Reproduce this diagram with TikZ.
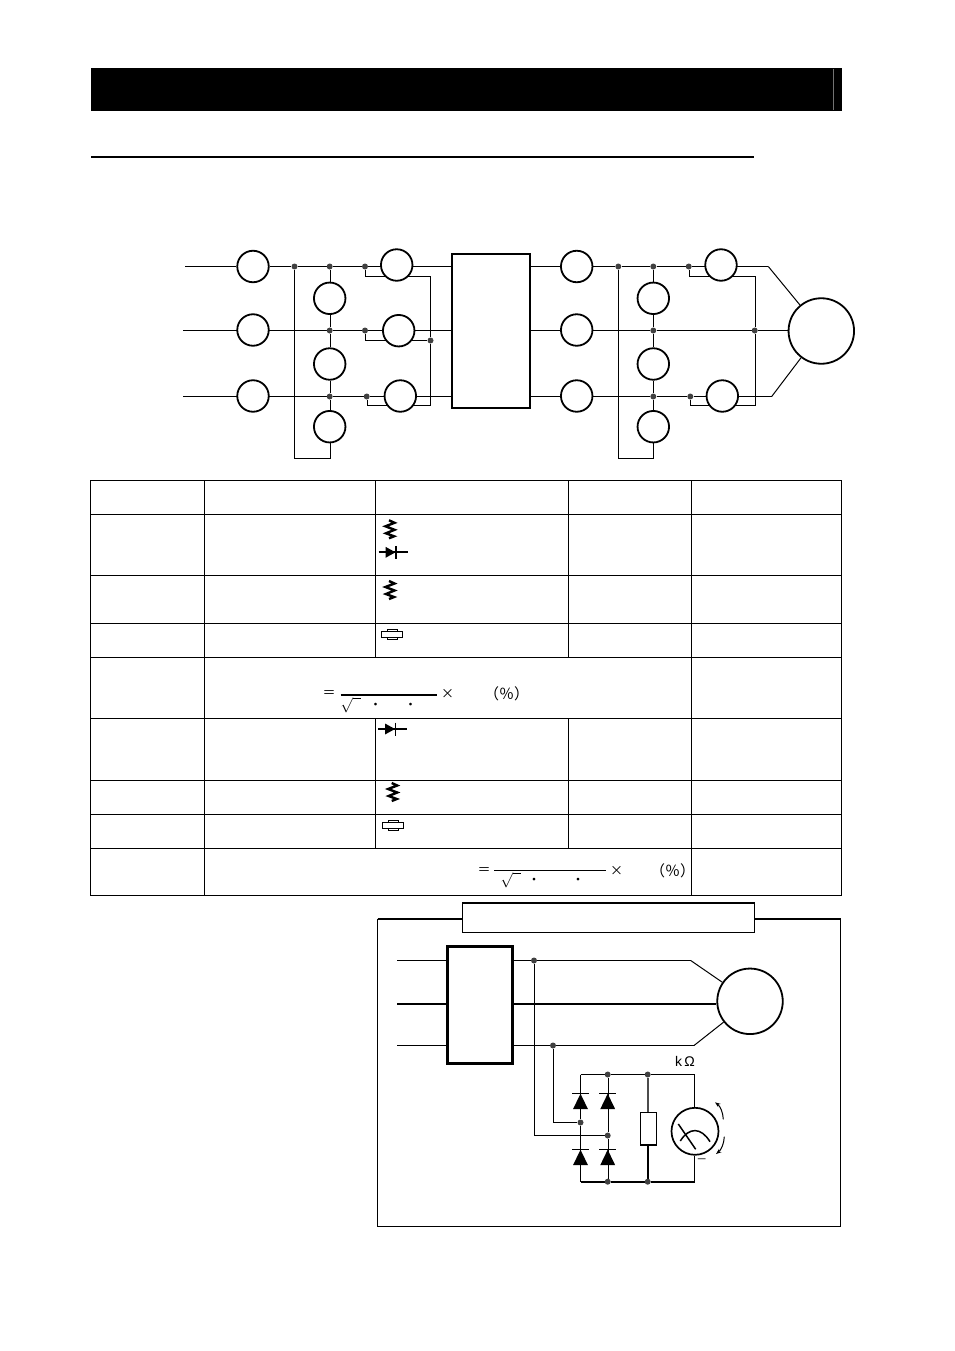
\documentclass[tikz,border=0pt]{standalone}
\usepackage{fontspec}
\setmainfont{Liberation Sans}
\newfontfamily\cjkfont{Noto Sans CJK JP}
\usetikzlibrary{backgrounds,arrows.meta}

\tikzset{
    ring/.style = {circle, draw, fill=white, line width=1.8pt, minimum size=31.5pt, inner sep=0pt},
    motor/.style = {circle, draw, fill=white, line width=1.8pt, minimum size=65.5pt, inner sep=0pt},
    blockbox/.style = {rectangle, draw, fill=white, inner sep=0pt, outer sep=0pt, anchor=north west},
    jdot/.style = {circle, fill=black!75, minimum size=6pt, inner sep=0pt},
    wire/.style = {line width=1.2pt},
    slant/.style = {line width=1pt},
    tblline/.style = {line width=1.25pt},
    mathmark/.style = {font=\cjkfont\fontsize{13pt}{14pt}\selectfont, inner sep=0pt},
    percent/.style = {font=\cjkfont\fontsize{15pt}{16pt}\selectfont, inner sep=0pt},
    varistor/.pic = {
        \draw[line width=2.4pt] (-1,-9) -- (4.5,-6.5) -- (-4.5,-3) -- (4.5,0.5) -- (-4,4) -- (4,7) -- (-1,9);
    },
    hdiode/.pic = {
        \draw[line width=1.9pt] (-14.5,0) -- (14.5,0);
        \fill (-7.5,-5.5) -- (2.5,0) -- (-7.5,5.5) -- cycle;
        \draw[line width=1.7pt] (3,-6.5) -- (3,6.5);
    },
    fusepart/.pic = {
        \draw[line width=1pt] (-5,-5.2) rectangle (5,5.2);
        \draw[line width=1pt, fill=white] (-10.7,-2.7) rectangle (10.7,2.7);
    },
    vdiode/.pic = {
        \fill (-7.5,15.5) -- (0,0) -- (7.5,15.5) -- cycle;
        \draw[line width=1.5pt] (-8.5,0) -- (8.5,0);
    }
}

\begin{document}
\begin{tikzpicture}[x=1pt, y=-1pt]
    \useasboundingbox (0,0) rectangle (954,1351);

    % Header band + rule
    \fill (91,68) rectangle (842,111);
    \draw[black!55, line width=1pt] (833.5,69) -- (833.5,110);
    \draw[line width=2pt] (91,157) -- (754,157);

    % Input side
    \coordinate (inA) at (185,266.5);
    \coordinate (inB) at (183,330.5);
    \coordinate (inC) at (183,396.5);
    \node[ring] (ra) at (253,266.5) {};
    \node[ring] (rb) at (253,330) {};
    \node[ring] (rc) at (253,396) {};
    \node[ring] (sa) at (329.7,298.3) {};
    \node[ring] (sb) at (329.7,364) {};
    \node[ring] (sc) at (329.7,426.7) {};
    \node[ring] (qa) at (396.7,265) {};
    \node[ring] (qb) at (398.7,330.7) {};
    \node[ring] (qc) at (400.3,396) {};
    \node[blockbox, line width=1.8pt, minimum width=78.3pt, minimum height=154pt] (conv) at (452,254) {};
    \node[jdot] (ja) at (294.5,266.5) {};
    \node[jdot] (jb) at (329.7,266.5) {};
    \node[jdot] (jc) at (365,266.5) {};
    \node[jdot] (jd) at (329.7,330.5) {};
    \node[jdot] (je) at (365,330.5) {};
    \node[jdot] (jf) at (329.7,396.5) {};
    \node[jdot] (jg) at (366.7,396.5) {};
    \node[jdot] (jh) at (430.5,340.5) {};
    \coordinate (ca) at (329.7,458.5);
    \coordinate (cb) at (365,276.5);
    \coordinate (cc) at (430.5,276.5);
    \coordinate (cd) at (430.5,405.5);
    \coordinate (ce) at (366.7,405.5);
    \coordinate (cf) at (365,340.5);

    % Output side
    \node[ring] (ua) at (576.7,266.5) {};
    \node[ring] (ub) at (576.7,330) {};
    \node[ring] (uc) at (576.7,396) {};
    \node[ring] (va) at (653.3,298.3) {};
    \node[ring] (vb) at (653.3,364) {};
    \node[ring] (vc) at (653.3,426.7) {};
    \node[ring] (wa) at (721,265) {};
    \node[ring] (wc) at (722.3,396) {};
    \node[motor] (mot) at (821.3,331) {};
    \node[jdot] (ka) at (618.3,266.5) {};
    \node[jdot] (kb) at (653.3,266.5) {};
    \node[jdot] (kc) at (688.7,266.5) {};
    \node[jdot] (kd) at (653.3,330.5) {};
    \node[jdot] (ke) at (653.3,396.5) {};
    \node[jdot] (kf) at (690.3,396.5) {};
    \node[jdot] (kg) at (754.7,330.5) {};
    \coordinate (da) at (653.3,458.5);
    \coordinate (db) at (688.7,276.5);
    \coordinate (dc) at (754.7,276.5);
    \coordinate (dd) at (754.7,405.5);
    \coordinate (de) at (690.3,405.5);
    \coordinate (df) at (768.3,266.5);
    \coordinate (dg) at (771.7,396.5);

    % Wiring of the upper circuit
    \begin{scope}[on background layer, wire]
        \draw (inA) -- (ra) -- (ja) -- (jb) -- (jc) -- (conv.west |- jc);
        \draw (inB) -- (jd) -- (je) -- (conv.west |- je);
        \draw (inC) -- (jf) -- (jg) -- (conv.west |- jg);
        \draw (jb) -- (sa) -- (jd) -- (sb) -- (jf) -- (sc) -- (ca) -| (ja);
        \draw (jc) -- (cb) -- (cc) -- (jh) -- (cd) -- (ce) -- (jg);
        \draw (je) -- (cf) -- (jh);
        \draw (conv.east |- ja) -- (ka) -- (kb) -- (kc) -- (df);
        \draw[slant] (df) -- (mot);
        \draw (conv.east |- jd) -- (kd) -- (kg) -- (mot.west |- kg);
        \draw (conv.east |- jf) -- (ke) -- (kf) -- (dg);
        \draw[slant] (dg) -- (mot);
        \draw (kb) -- (va) -- (kd) -- (vb) -- (ke) -- (vc) -- (da) -| (ka);
        \draw (kc) -- (db) -- (dc) -- (kg) -- (dd) -- (de) -- (kf);
    \end{scope}

    % Table
    \draw[tblline] (90.5,480.5) rectangle (841.5,895.5);
    \draw[tblline] (90.5,514.5) -- (841.5,514.5);
    \draw[tblline] (90.5,575.5) -- (841.5,575.5);
    \draw[tblline] (90.5,623.5) -- (841.5,623.5);
    \draw[tblline] (90.5,657.5) -- (841.5,657.5);
    \draw[tblline] (90.5,718.5) -- (841.5,718.5);
    \draw[tblline] (90.5,780.5) -- (841.5,780.5);
    \draw[tblline] (90.5,814.5) -- (841.5,814.5);
    \draw[tblline] (90.5,848.5) -- (841.5,848.5);
    \draw[tblline] (204.5,480.5) -- (204.5,895.5);
    \draw[tblline] (691.5,480.5) -- (691.5,895.5);
    \draw[tblline] (375.5,480.5) -- (375.5,657.5);
    \draw[tblline] (375.5,718.5) -- (375.5,848.5);
    \draw[tblline] (568.5,480.5) -- (568.5,657.5);
    \draw[tblline] (568.5,718.5) -- (568.5,848.5);

    % Table symbols
    \pic at (390,529.3) {varistor};
    \pic at (393,552.3) {hdiode};
    \pic at (390,590) {varistor};
    \pic at (392,634.3) {fusepart};
    \pic at (392.5,729) {hdiode};
    \pic at (392.7,792) {varistor};
    \pic at (393.2,825.3) {fusepart};

    % Formulas
    \node[mathmark] (eqa) at (329,694) {＝};
    \node[mathmark] (xa) at (447.7,694) {×};
    \node[percent] (pa) at (506.7,694) {（％）};
    \node[scale=1.5] (ra2) at (350.7,705.5) {$\sqrt{\phantom{3}}$};
    \node[mathmark] (da1) at (375.7,706.7) {・};
    \node[mathmark] (da2) at (410.7,706.7) {・};
    \draw[line width=2pt] (340.7,694.7) -- (437.3,694.7);
    \node[mathmark] (eqb) at (484,871) {＝};
    \node[mathmark] (xb) at (616.7,871) {×};
    \node[percent] (pb) at (672.7,871) {（％）};
    \node[scale=1.5] (rb2) at (510.7,880.5) {$\sqrt{\phantom{3}}$};
    \node[mathmark] (db1) at (534,881.7) {・};
    \node[mathmark] (db2) at (578,881.7) {・};
    \draw[line width=1.2pt] (494.3,870.5) -- (605.7,870.5);

    % Test panel
    \draw[wire] (377.5,918.8) -- (377.5,1226.5) -- (840.5,1226.5) -- (840.5,918.8);
    \draw[line width=1.8pt] (377.5,918.8) -- (840.5,918.8);
    \node[blockbox, line width=1.1pt, minimum width=292.4pt, minimum height=29.3pt] (title) at (462.3,903) {};
    \draw[line width=1.8pt] (title.north west) -- (title.north east);

    % Panel circuit
    \coordinate (pinA) at (397,960.5);
    \coordinate (pinB) at (397,1004);
    \coordinate (pinC) at (397,1045.5);
    \coordinate (pkA) at (690.7,960.5);
    \coordinate (pkC) at (694,1045.5);
    \node[blockbox, line width=2.5pt, minimum width=65pt, minimum height=117pt] (inv) at (447.3,946.3) {};
    \node[motor] (pm) at (750,1001.3) {};
    \node[jdot] (na) at (534,960.5) {};
    \node[jdot] (nb) at (553,1045.5) {};
    \node[jdot] (nc) at (580.5,1122.5) {};
    \node[jdot] (nd) at (607.7,1135.5) {};
    \node[jdot] (ne) at (607.7,1074.5) {};
    \node[jdot] (nf) at (647.7,1074.5) {};
    \node[jdot] (ng) at (607.7,1181.7) {};
    \node[jdot] (nh) at (647.7,1181.7) {};
    \coordinate (tl) at (580.5,1074.5);
    \coordinate (tr) at (694.5,1074.5);
    \coordinate (bl) at (580.5,1181.7);
    \coordinate (br) at (694.5,1181.7);
    \node[blockbox, line width=1.5pt, minimum width=16pt, minimum height=32.3pt] (res) at (640.7,1112.7) {};
    \node[ring, line width=1.7pt, minimum size=47pt] (meter) at (695,1131.3) {};
    \node[inner sep=0pt, font=\fontsize{14pt}{15pt}\selectfont] (kohm) at (685,1061.3) {k\,Ω};
    \node[black!65, inner sep=0pt, font=\fontsize{16pt}{17pt}\selectfont] (minus) at (701.7,1161.5) {−};

    \begin{scope}[on background layer, wire]
        \draw (pinA) -- (inv.west |- pinA);
        \draw[line width=2pt] (pinB) -- (inv.west |- pinB);
        \draw (pinC) -- (inv.west |- pinC);
        \draw (inv.east |- na) -- (na) -- (pkA);
        \draw[slant] (pkA) -- (pm);
        \draw[line width=2pt] (inv.east |- pinB) -- (pm.west |- pinB);
        \draw (inv.east |- nb) -- (nb) -- (pkC);
        \draw[slant] (pkC) -- (pm);
        \draw (na) |- (nd);
        \draw (nb) |- (nc);
        \draw (tl) -- (nc) -- (bl);
        \draw (ne) -- (nd) -- (ng);
        \draw (tl) -- (ne) -- (nf) -- (tr) -- (tr |- meter.north);
        \draw[line width=2pt] (bl) -- (ng) -- (nh) -- (br);
        \draw (br) -- (br |- meter.south);
        \draw[black!70, line width=1.7pt] (nf) -- (nf |- res.north);
        \draw[line width=1.7pt] (nf |- res.south) -- (nh);
    \end{scope}

    % Bridge diodes
    \pic at (580.5,1093.7) {vdiode};
    \pic at (607.7,1093.7) {vdiode};
    \pic at (580.5,1149.7) {vdiode};
    \pic at (607.7,1149.7) {vdiode};

    % Meter needle + arrows
    \draw[line width=1.5pt] (678.3,1124) -- (695.7,1149.3);
    \draw[line width=1.5pt] (680.3,1141) .. controls (689,1127) and (701,1127) .. (710,1141.7);
    \draw[-{Stealth[length=5.5pt]}, line width=1pt] (723.3,1119.3) .. controls (723,1112) and (720,1106) .. (715,1102.3);
    \draw[-{Stealth[length=5.5pt]}, line width=1pt] (724.3,1136.7) .. controls (724,1144) and (721,1150) .. (716,1154);

\end{tikzpicture}
\end{document}
